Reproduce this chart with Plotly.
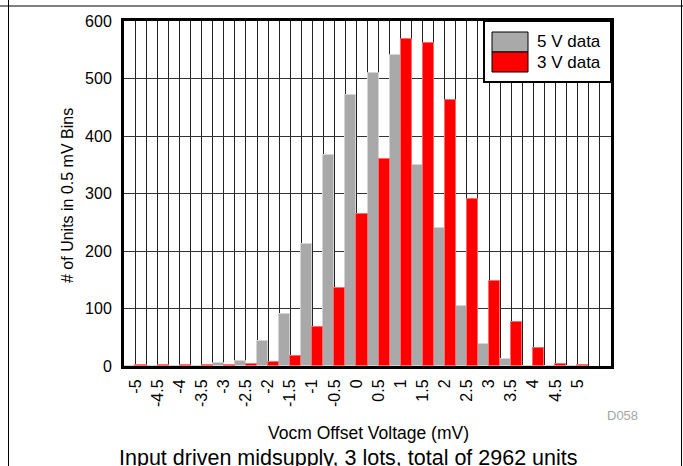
import plotly.graph_objects as go

# ---- data ----
bins_mv = [-5, -4.5, -4, -3.5, -3, -2.5, -2, -1.5, -1, -0.5, 0, 0.5, 1, 1.5, 2, 2.5, 3, 3.5, 4, 4.5, 5]
tick_labels = ["-5", "-4.5", "-4", "-3.5", "-3", "-2.5", "-2", "-1.5", "-1", "-0.5", "0",
               "0.5", "1", "1.5", "2", "2.5", "3", "3.5", "4", "4.5", "5"]
counts_5v = [0, 0, 0, 0, 5, 9, 43, 90, 213, 367, 471, 509, 541, 350, 240, 105, 38, 13, 0, 0, 0]
counts_3v = [1, 1, 1, 1, 1, 4, 7, 17, 68, 136, 264, 360, 568, 562, 463, 290, 147, 76, 31, 3, 1]
series_names = ["5 V data", "3 V data"]
y_ticks = [0, 100, 200, 300, 400, 500, 600]

GRAY = "#a9a9a9"
RED = "#ff0000"
FONT = "Liberation Sans, Arial, sans-serif"

fig = go.Figure()
fig.add_trace(go.Bar(x=bins_mv, y=counts_5v, name=series_names[0],
                     marker=dict(color=GRAY, line=dict(color="#d4d4d4", width=1)),
                     showlegend=False))
fig.add_trace(go.Bar(x=bins_mv, y=counts_3v, name=series_names[1],
                     marker=dict(color=RED, line=dict(color="#ff6a6a", width=1)),
                     showlegend=False))

L, R, T, B = 124, 72, 21, 100
W, H = 683, 466
pw, ph = W - L - R, H - T - B


def px(x):
    return (x - L) / pw


def py(y):
    return (H - B - y) / ph


shapes = []
# outer frame lines
shapes.append(dict(type="line", xref="paper", yref="paper", x0=px(8.5), x1=px(8.5), y0=py(0), y1=py(466),
                   line=dict(color="black", width=1)))
shapes.append(dict(type="line", xref="paper", yref="paper", x0=px(681.5), x1=px(681.5), y0=py(0), y1=py(466),
                   line=dict(color="black", width=1)))
shapes.append(dict(type="line", xref="paper", yref="paper", x0=px(0), x1=px(683), y0=py(6), y1=py(6),
                   line=dict(color="black", width=1.2)))
# legend box
shapes.append(dict(type="rect", xref="paper", yref="paper", x0=px(484), x1=1.0, y0=py(82), y1=1.0,
                   fillcolor="white", line=dict(color="black", width=2), layer="above"))
shapes.append(dict(type="rect", xref="paper", yref="paper", x0=px(492), x1=px(528), y0=py(52), y1=py(32),
                   fillcolor=GRAY, line=dict(color="black", width=1), layer="above"))
shapes.append(dict(type="rect", xref="paper", yref="paper", x0=px(492), x1=px(528), y0=py(72), y1=py(52),
                   fillcolor=RED, line=dict(color="black", width=1), layer="above"))

annotations = [
    dict(text=series_names[0], x=px(535), y=py(42), xref="paper", yref="paper", xanchor="left",
         yanchor="middle", showarrow=False, font=dict(family=FONT, size=17, color="black")),
    dict(text=series_names[1], x=px(535), y=py(63), xref="paper", yref="paper", xanchor="left",
         yanchor="middle", showarrow=False, font=dict(family=FONT, size=17, color="black")),
    dict(text="# of Units in 0.5 mV Bins", x=px(67), y=py(196), xref="paper", yref="paper",
         textangle=-90, showarrow=False, xanchor="center", yanchor="middle",
         font=dict(family=FONT, size=16, color="black")),
    dict(text="Vocm Offset Voltage (mV)", x=px(368), y=py(433), xref="paper", yref="paper",
         showarrow=False, xanchor="center", yanchor="middle",
         font=dict(family=FONT, size=17.5, color="black")),
    dict(text="Input driven midsupply, 3 lots, total of 2962 units", x=px(348), y=py(458),
         xref="paper", yref="paper", showarrow=False, xanchor="center", yanchor="middle",
         font=dict(family=FONT, size=21.5, color="black")),
    dict(text="D058", x=px(622), y=py(415), xref="paper", yref="paper", showarrow=False,
         xanchor="center", yanchor="middle", font=dict(family=FONT, size=13, color="#a6a6a6")),
]

fig.update_layout(
    width=W, height=H,
    margin=dict(l=L, r=R, t=T, b=B, pad=0),
    paper_bgcolor="white", plot_bgcolor="white",
    barmode="group", bargap=0, bargroupgap=0,
    shapes=shapes, annotations=annotations,
    font=dict(family=FONT, color="black"),
    showlegend=False,
)
fig.update_xaxes(
    range=[-5.26, 5.76],
    tickmode="array", tickvals=bins_mv, ticktext=tick_labels, tickangle=-90,
    tickfont=dict(family=FONT, size=16, color="black"),
    ticks="", ticklabelstandoff=4,
    showgrid=True, gridcolor="#222222", gridwidth=1,
    minor=dict(tick0=-5, dtick=0.25, showgrid=True, gridcolor="#222222", gridwidth=1),
    showline=True, linecolor="black", linewidth=3, mirror=True,
    zeroline=False,
)
fig.update_yaxes(
    range=[0, 600],
    tickmode="array", tickvals=y_ticks,
    tickfont=dict(family=FONT, size=16, color="black"),
    ticks="", ticklabelstandoff=6,
    showgrid=True, gridcolor="#333333", gridwidth=1,
    showline=True, linecolor="black", linewidth=3, mirror=True,
    zeroline=False,
)

fig.write_html("out.html",
               config={"displayModeBar": False},
               post_script="document.body.style.margin='0';document.body.style.overflow='hidden';")
